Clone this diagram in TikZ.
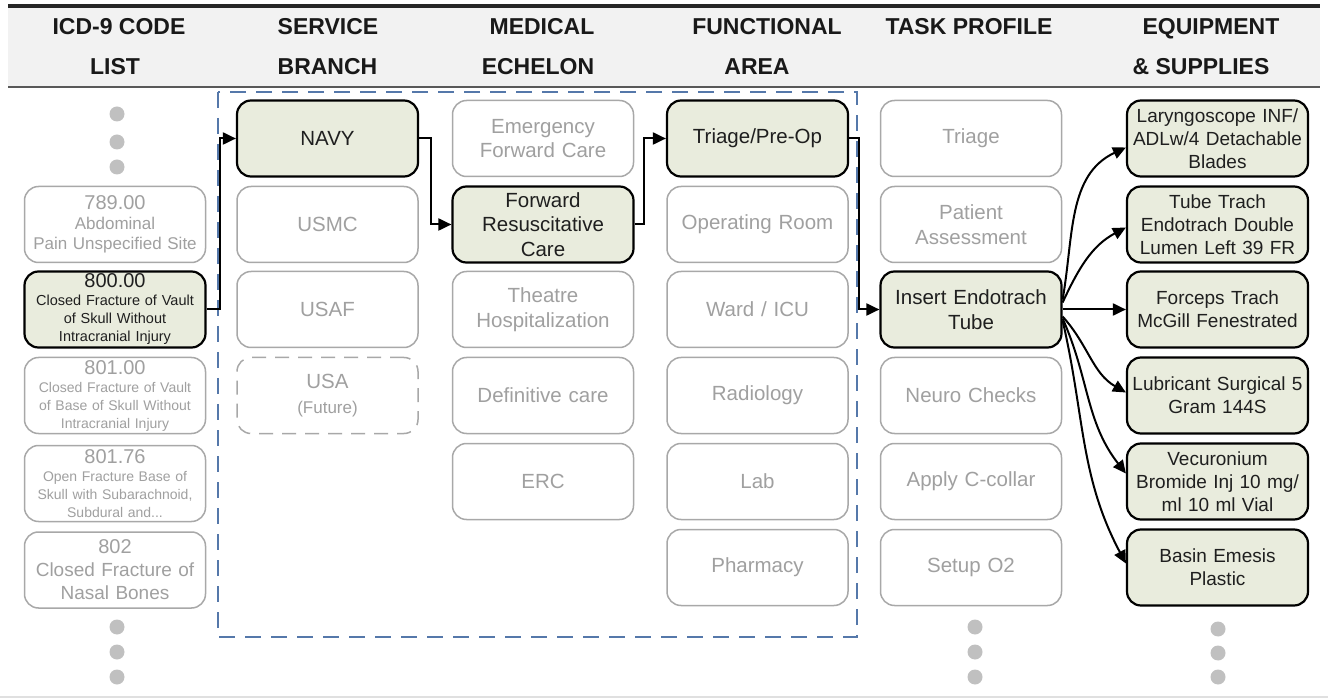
\documentclass[tikz,border=0pt]{standalone}
\usepackage{fontspec}
\setmainfont{Liberation Sans}
\usetikzlibrary{arrows.meta}
\definecolor{hifill}{RGB}{233,236,221}
\definecolor{gline}{RGB}{168,168,168}
\definecolor{gtext}{RGB}{160,160,160}
\definecolor{dotc}{RGB}{192,192,192}
\definecolor{dashblue}{RGB}{85,120,170}
\definecolor{hdrbg}{RGB}{242,242,242}
\newcommand{\fsz}[2]{\fontsize{#1}{#2}\selectfont}
\hyphenpenalty=10000
\exhyphenpenalty=10000
\begin{document}
\begin{tikzpicture}[x=1pt,y=1pt,
  box/.style={rounded corners=14pt, minimum width=181pt, minimum height=76pt,
    text width=179pt, align=center, inner sep=0pt},
  gbox/.style={box, draw=gline, line width=1.5pt, text=gtext, fill=white},
  hbox/.style={box, draw=black, line width=2.2pt, fill=hifill, text=black!88},
  big/.style={font=\fsz{20.5}{24.5}},
  eq/.style={font=\fsz{19}{23}},
  conn/.style={line width=2pt, -{Triangle[length=13pt,width=12pt]}},
  dotn/.style={circle, fill=dotc, minimum size=15pt, inner sep=0pt},
  hdr/.style={font=\bfseries\fsz{23}{27}, text=black!90, anchor=base}]
\useasboundingbox (0,0) rectangle (1328,-700);
% header
\fill[hdrbg] (8,-7) rectangle (1320,-87);
\draw[line width=3.5pt, black!85] (8,-6) -- (1320,-6);
\draw[line width=2pt, black!65] (8,-87) -- (1320,-87);
\draw[line width=1.2pt, black!12] (0,-697) -- (1328,-697);
\node[hdr] (h1a) at (119,-34.7) {ICD-9 CODE};
\node[hdr] (h1b) at (115,-74.7) {LIST};
\node[hdr] (h2a) at (328,-34.7) {SERVICE};
\node[hdr] (h2b) at (327.5,-74.7) {BRANCH};
\node[hdr] (h3a) at (542,-34.7) {MEDICAL};
\node[hdr] (h3b) at (538,-74.7) {ECHELON};
\node[hdr] (h4a) at (767,-34.7) {FUNCTIONAL};
\node[hdr] (h4b) at (757,-74.7) {AREA};
\node[hdr] (h5a) at (969,-34.7) {TASK PROFILE};
\node[hdr] (h6a) at (1211,-34.7) {EQUIPMENT};
\node[hdr] (h6b) at (1201,-74.7) {\& SUPPLIES};
% dashed region
\draw[dashblue, line width=2pt, dash pattern=on 16pt off 10pt] (218,-92) rectangle (857,-637);
% column 1
\node[dotn] (d1a) at (117,-114) {};
\node[dotn] (d1b) at (117,-142) {};
\node[dotn] (d1c) at (117,-167) {};
\node[gbox, font=\fsz{17}{20}] (c789) at (115,-224.5) {{\fsz{20}{22}789.00\par}Abdominal\\Pain Unspecified Site};
\node[hbox, font=\fsz{14.5}{18}] (c800) at (115,-309.5) {{\fsz{20}{21}800.00\par}Closed Fracture of Vault\\of Skull Without\\Intracranial Injury};
\node[gbox, font=\fsz{14}{18}] (c801) at (115,-395.5) {{\fsz{20}{21}801.00\par}Closed Fracture of Vault\\of Base of Skull Without\\Intracranial Injury};
\node[gbox, font=\fsz{14}{18}] (c80176) at (115,-483.5) {{\fsz{20}{22}801.76\par}Open Fracture Base of\\Skull with Subarachnoid,\\Subdural and...};
\node[gbox, font=\fsz{19}{23}] (c802) at (115,-570) {{\fsz{20}{24}802\par}Closed Fracture of\\Nasal Bones};
\node[dotn] (d1d) at (117,-627) {};
\node[dotn] (d1e) at (117,-652) {};
\node[dotn] (d1f) at (117,-677) {};
% column 2
\node[hbox, big] (navy) at (327.5,-138.5) {NAVY};
\node[gbox, big] (usmc) at (327.5,-224.5) {USMC};
\node[gbox, big] (usaf) at (327.5,-309.5) {USAF};
\node[gbox, big, dash pattern=on 14pt off 9pt] (usa) at (327.5,-395.5) {USA\\{\fsz{17}{24}(Future)}};
% column 3
\node[gbox, big] (efc) at (543,-138.5) {Emergency\\Forward Care};
\node[hbox, big] (frc) at (543,-224.5) {Forward\\Resuscitative\\Care};
\node[gbox, big] (th) at (543,-309.5) {Theatre\\Hospitalization};
\node[gbox, big] (dc) at (543,-395.5) {Definitive care};
\node[gbox, big] (erc) at (543,-481.5) {ERC};
% column 4
\node[hbox, big] (tpo) at (757.5,-138.5) {Triage/Pre-Op};
\node[gbox, big] (orm) at (757.5,-224.5) {Operating Room};
\node[gbox, big] (ward) at (757.5,-309.5) {Ward / ICU};
\node[gbox, big] (rad) at (757.5,-395.5) {Radiology};
\node[gbox, big] (lab) at (757.5,-481.5) {Lab};
\node[gbox, big] (pha) at (757.5,-567.5) {Pharmacy};
% column 5
\node[gbox, big] (tri) at (971,-138.5) {Triage};
\node[gbox, big] (pas) at (971,-224.5) {Patient\\Assessment};
\node[hbox, big] (iet) at (971,-309.5) {Insert Endotrach\\Tube};
\node[gbox, big] (neu) at (971,-395.5) {Neuro Checks};
\node[gbox, big] (acc) at (971,-481.5) {Apply C-collar};
\node[gbox, big] (so2) at (971,-567.5) {Setup O2};
\node[dotn] (d5a) at (975,-627) {};
\node[dotn] (d5b) at (975,-652) {};
\node[dotn] (d5c) at (975,-677) {};
% column 6
\node[hbox, eq] (e1) at (1217.5,-138.5) {Laryngoscope INF/\\ADLw/4 Detachable\\Blades};
\node[hbox, eq] (e2) at (1217.5,-224.5) {Tube Trach\\Endotrach Double\\Lumen Left 39 FR};
\node[hbox, eq] (e3) at (1217.5,-309.5) {Forceps Trach\\McGill Fenestrated};
\node[hbox, eq] (e4) at (1217.5,-395.5) {Lubricant Surgical 5\\Gram 144S};
\node[hbox, eq] (e5) at (1217.5,-481.5) {Vecuronium\\Bromide Inj 10 mg/\\ml 10 ml Vial};
\node[hbox, eq] (e6) at (1217.5,-567.5) {Basin Emesis\\Plastic};
\node[dotn] (d6a) at (1218,-629) {};
\node[dotn] (d6b) at (1218,-653) {};
\node[dotn] (d6c) at (1218,-677) {};
% connectors
\draw[conn] (c800.east) -- ++(13,0) |- (navy.west);
\draw[conn] (navy.east) -- ++(12,0) |- (frc.west);
\draw[conn] (frc.east) -- ++(9,0) |- (tpo.west);
\draw[conn] (tpo.east) -- ++(10,0) |- (iet.west);
\draw[conn] ([yshift=10]iet.east) to[out=80,in=205] ([yshift=-9]e1.west);
\draw[conn] ([yshift=7]iet.east) to[out=65,in=208] ([yshift=-3]e2.west);
\draw[conn] (iet.east) -- (e3.west);
\draw[conn] ([yshift=-7]iet.east) to[out=-48,in=150] ([yshift=3]e4.west);
\draw[conn] ([yshift=-9]iet.east) to[out=-66,in=128] ([yshift=8]e5.west);
\draw[conn] ([yshift=-11]iet.east) to[out=-77,in=118] ([yshift=4]e6.west);
\end{tikzpicture}
\end{document}
